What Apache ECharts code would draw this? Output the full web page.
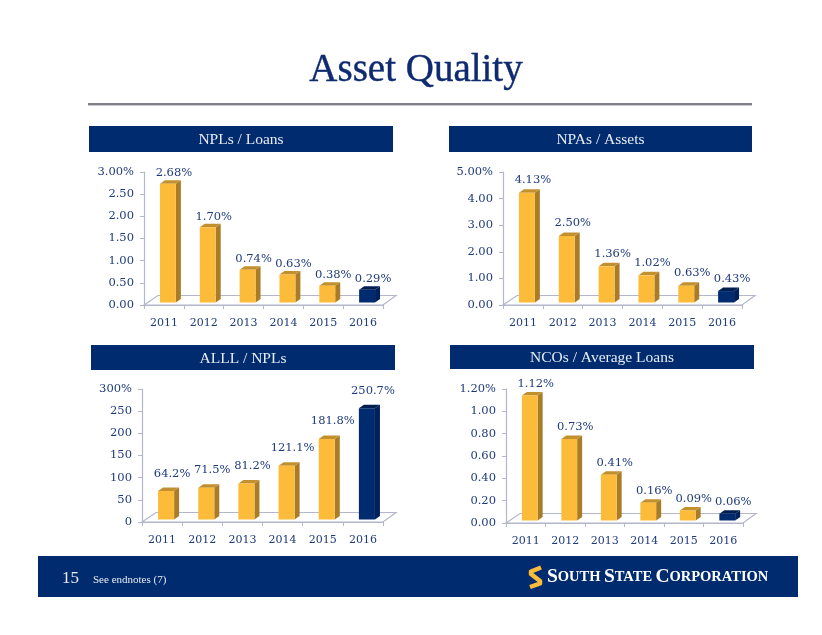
<!DOCTYPE html>
<html><head><meta charset="utf-8">
<style>html,body{margin:0;padding:0;background:#fff}#c{width:822px;height:635px}</style>
<script src="https://cdn.jsdelivr.net/npm/echarts@6/dist/echarts.min.js"></script>
</head><body><div id="c"></div>
<script>
const years = ['2011','2012','2013','2014','2015','2016'];
const nplValues = [2.68,1.70,0.74,0.63,0.38,0.29];
const npaValues = [4.13,2.50,1.36,1.02,0.63,0.43];
const alllValues = [64.2,71.5,81.2,121.1,181.8,250.7];
const ncoValues = [1.12,0.73,0.41,0.16,0.09,0.06];
const nplTicks = ['0.00','0.50','1.00','1.50','2.00','2.50','3.00%'];
const npaTicks = ['0.00','1.00','2.00','3.00','4.00','5.00%'];
const alllTicks = ['0','50','100','150','200','250','300%'];
const ncoTicks = ['0.00','0.20','0.40','0.60','0.80','1.00','1.20%'];
const panelTitles = ['NPLs / Loans','NPAs / Assets','ALLL / NPLs','NCOs / Average Loans'];

const NAVY='#002C6F', GOLD='#FDBB3A', GOLDTOP='#C2902F', GOLDSIDE='#A97C28', NAVYTOP='#001E50', NAVYSIDE='#00205A', INK='#1E3A7C', AXIS='#B4B6CC';
const FONT='DejaVu Serif', HEAD='"Liberation Serif"';

const panels=[
 {vals:nplValues,ticks:nplTicks,step:0.5,dec:2,suf:'%',lift:7,grid:{left:144,top:172,width:239,height:133},head:[89,126,304,26]},
 {vals:npaValues,ticks:npaTicks,step:1,dec:2,suf:'%',lift:9,grid:{left:503,top:172,width:239,height:133},head:[449,126,303,26]},
 {vals:alllValues,ticks:alllTicks,step:50,dec:1,suf:'%',lift:14,grid:{left:142,top:389,width:241,height:133},head:[91,345,304,25]},
 {vals:ncoValues,ticks:ncoTicks,step:0.2,dec:2,suf:'%',lift:8,grid:{left:506,top:389,width:237,height:134},head:[450,345,304,24]}
];

function render(p){return (params,api)=>{
  const i=api.value(0), v=api.value(1), cs=params.coordSys;
  const band=api.size([1,0])[0], w=band*0.4;
  const base=api.coord([i,0]), top=api.coord([i,v]);
  const dx=5,dy=3.5, ox=4, oy=-2.5;
  const L=base[0]-w/2+ox, R=L+w, B=base[1]+oy, T=top[1]+oy;
  const last=i===p.vals.length-1;
  const children=[];
  if(i===0){
    const X=cs.x,Y=cs.y+cs.height,RR=cs.x+cs.width;
    children.push({type:'polygon',shape:{points:[[X,Y],[X+14,Y-9.5],[RR+13,Y-9.5],[RR,Y]]},style:{fill:'#fff',stroke:AXIS,lineWidth:1.2}});
  }
  children.push({type:'polygon',shape:{points:[[R,B],[R+dx,B-dy],[R+dx,T-dy],[R,T]]},style:{fill:last?NAVYSIDE:GOLDSIDE}});
  children.push({type:'polygon',shape:{points:[[L,T],[L+dx,T-dy],[R+dx,T-dy],[R,T]]},style:{fill:last?NAVYTOP:GOLDTOP}});
  children.push({type:'rect',shape:{x:L,y:T,width:w,height:B-T},style:{fill:last?NAVY:GOLD}});
  children.push({type:'text',style:{text:v.toFixed(p.dec)+p.suf,x:(L+R)/2+6,y:T-dy-p.lift,align:'center',verticalAlign:'middle',font:'11.5px "DejaVu Serif"',fill:INK}});
  return {type:'group',children};
};}

const grid=[],xAxis=[],yAxis=[],series=[],graphic=[];
panels.forEach((p,k)=>{
  grid.push(p.grid);
  xAxis.push({type:'category',gridIndex:k,data:years,boundaryGap:true,z:1,
    axisLine:{show:true,lineStyle:{color:AXIS,width:1.2}},axisTick:{show:true,length:4,alignWithLabel:false,lineStyle:{color:AXIS}},
    axisLabel:{color:INK,fontFamily:FONT,fontSize:11,margin:13,interval:0},splitLine:{show:false}});
  yAxis.push({type:'value',gridIndex:k,min:0,max:p.step*(p.ticks.length-1),interval:p.step,z:1,
    axisLine:{show:true,lineStyle:{color:AXIS,width:1.2}},axisTick:{show:true,length:4,lineStyle:{color:AXIS}},splitLine:{show:false},
    axisLabel:{color:INK,fontFamily:FONT,fontSize:11.5,margin:10,padding:[2,0,0,0],formatter:(v,idx)=>p.ticks[idx]}});
  series.push({type:'custom',xAxisIndex:k,yAxisIndex:k,clip:false,silent:true,animation:false,encode:{x:0,y:1},
    data:p.vals.map((v,i)=>[i,v]),renderItem:render(p)});
  const h=p.head;
  graphic.push({type:'rect',shape:{x:h[0],y:h[1],width:h[2],height:h[3]},style:{fill:NAVY}});
  graphic.push({type:'text',x:h[0]+h[2]/2,y:h[1]+h[3]/2+1,style:{text:panelTitles[k],font:'15.5px '+HEAD,fill:'#E8ECF4',align:'center',verticalAlign:'middle'}});
});
// title + rule
graphic.push({type:'text',x:416,y:71,style:{text:'Asset Quality',font:'39px '+HEAD,fill:'#0E2A70',stroke:'#0E2A70',lineWidth:0.4,align:'center',verticalAlign:'middle'}});
graphic.push({type:'rect',shape:{x:88,y:103,width:664,height:2},style:{fill:'#808088'}});
graphic.push({type:'rect',shape:{x:88,y:105,width:664,height:1},style:{fill:'#C8C8CC'}});
// footer
graphic.push({type:'rect',shape:{x:38,y:556,width:760,height:41},style:{fill:NAVY}});
graphic.push({type:'text',x:62,y:579,style:{text:'15',font:'17px '+HEAD,fill:'#E8ECF4',verticalAlign:'middle'}});
graphic.push({type:'text',x:93,y:580,style:{text:'See endnotes (7)',font:'11px '+HEAD,fill:'#E8ECF4',verticalAlign:'middle'}});
graphic.push({type:'polyline',shape:{points:[[541,567.5],[531,571.5],[531,574],[540,581],[540,583.5],[530,587]]},style:{fill:'none',stroke:GOLD,lineWidth:4.5,lineJoin:'round'}});
graphic.push({type:'text',x:547,y:577,style:{
  text:'{a|S}{b|OUTH} {a|S}{b|TATE} {a|C}{b|ORPORATION}',verticalAlign:'middle',
  rich:{a:{font:'bold 19.5px '+HEAD,fill:'#fff'},b:{font:'bold 14.5px '+HEAD,fill:'#fff'}}}});

const chart=echarts.init(document.getElementById('c'),null,{renderer:'canvas'});
chart.setOption({animation:false,backgroundColor:'#fff',grid,xAxis,yAxis,series,graphic});
</script></body></html>
